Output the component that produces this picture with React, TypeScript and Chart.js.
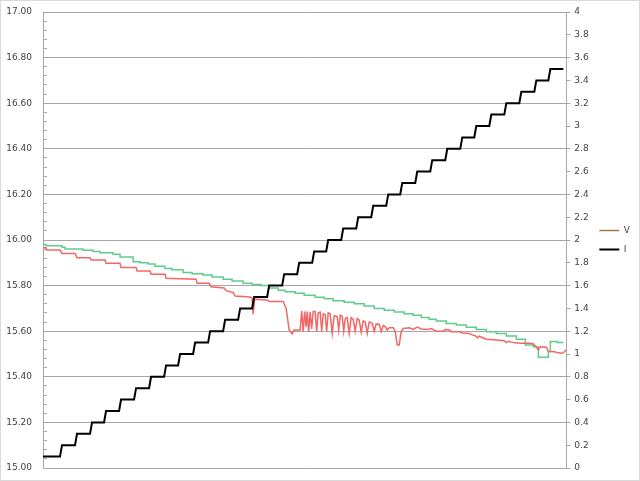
import React, { useEffect, useRef } from 'react';
import { Chart, registerables } from 'chart.js';

Chart.register(...registerables);

// ---- Data (x in sample units along a hidden time axis) ----
const xMax = 523;

// Current (right axis, A): stair levels and the sample at which each level begins
const currentLevels = [
  0.1, 0.2, 0.3, 0.4, 0.5, 0.6, 0.7, 0.8, 0.9, 1.0,
  1.1, 1.2, 1.3, 1.4, 1.5, 1.6, 1.7, 1.8, 1.9, 2.0,
  2.1, 2.2, 2.3, 2.4, 2.5, 2.6, 2.7, 2.8, 2.9, 3.0,
  3.1, 3.2, 3.3, 3.4, 3.5,
];
const currentStarts = [
  0, 18, 33, 48, 62, 77, 92, 107, 122, 136,
  151, 166, 181, 196, 210, 225, 240, 255, 270, 284,
  299, 314, 329, 344, 358, 373, 388, 403, 418, 432,
  447, 462, 477, 492, 506,
];
const currentEnd = 520;

// Upper voltage trace (green)
const greenX = [
  0, 3, 19, 22, 40, 50, 57, 70, 77, 90, 97, 105, 112, 122, 129, 140, 149, 160, 169, 180,
  189, 200, 209, 218, 226, 235, 242, 252, 261, 272, 281, 290, 301, 311, 321, 331, 341, 351,
  361, 370, 378, 386, 393, 403, 413, 423, 433, 443, 453, 463, 473, 482, 490, 495, 498, 505,
  507, 508, 514, 520,
];
const greenV = [
  15.99, 15.98, 15.975, 15.968, 15.96, 15.955, 15.95, 15.944, 15.937, 15.925, 15.905, 15.9,
  15.895, 15.885, 15.875, 15.87, 15.857, 15.852, 15.847, 15.838, 15.828, 15.82, 15.81, 15.805,
  15.8, 15.79, 15.78, 15.773, 15.766, 15.758, 15.749, 15.742, 15.734, 15.727, 15.72, 15.71,
  15.7, 15.692, 15.684, 15.677, 15.67, 15.66, 15.652, 15.645, 15.634, 15.627, 15.617, 15.607,
  15.598, 15.59, 15.579, 15.565, 15.54, 15.532, 15.486, 15.486, 15.51, 15.554, 15.555, 15.55,
];

// Lower voltage trace (red)
const redX = [
  0, 3, 4, 17, 19, 32, 34, 47, 48, 62, 63, 77, 78, 93, 94, 107, 108, 122, 123, 153,
  154, 166, 168, 181, 183, 190, 192, 207, 209, 210, 211.5, 224, 226, 240, 243, 246, 249, 251, 257,
  258.5, 260, 261.5, 263, 264, 265.5, 267, 268.5, 270, 272, 273.5, 275, 277, 278.5, 280, 282,
  283.5, 285, 287, 289, 291, 294, 295.5, 297, 299, 300.5, 302, 304, 306, 308, 310, 312, 314,
  316, 318, 320, 322, 324, 326, 329, 331, 333, 336, 338, 340, 342, 344, 346, 350, 352, 354,
  356, 358, 360, 366, 370, 374, 378, 384, 388, 393, 400, 402, 406, 408, 416, 419, 426, 429,
  432, 434, 436, 443, 450, 456, 461, 463, 465, 470, 477, 485, 490, 493, 495, 497, 503, 505,
  511, 515, 519, 521, 523,
];
const redV = [
  15.966, 15.966, 15.956, 15.956, 15.941, 15.941, 15.922, 15.922, 15.912, 15.912, 15.898, 15.898,
  15.879, 15.879, 15.864, 15.864, 15.85, 15.85, 15.832, 15.828,
  15.81, 15.81, 15.795, 15.79, 15.778, 15.77, 15.754, 15.75, 15.745, 15.675, 15.74, 15.737,
  15.73, 15.73, 15.7, 15.605, 15.588, 15.605, 15.605,
  15.688, 15.6, 15.686, 15.62, 15.686, 15.598, 15.684, 15.61, 15.686, 15.686, 15.598, 15.68,
  15.684, 15.6, 15.676, 15.672, 15.6, 15.68, 15.676, 15.591, 15.668, 15.664, 15.605, 15.67,
  15.666, 15.6, 15.655, 15.66, 15.591, 15.66, 15.652, 15.6, 15.655, 15.648, 15.595, 15.645,
  15.64, 15.59, 15.64, 15.635, 15.6, 15.632, 15.63, 15.598, 15.625, 15.62, 15.605, 15.615,
  15.615, 15.6, 15.54, 15.54, 15.6, 15.612, 15.615, 15.608, 15.618, 15.61, 15.607, 15.612,
  15.6, 15.6, 15.607, 15.606, 15.598, 15.598, 15.592, 15.59, 15.584, 15.58, 15.571, 15.578,
  15.565, 15.562, 15.56, 15.558, 15.55, 15.556, 15.55, 15.547, 15.547, 15.545, 15.53, 15.518,
  15.532, 15.53, 15.512, 15.51, 15.505, 15.503, 15.51, 15.518,
];

// Axes
const voltMin = 15.0;
const voltMax = 17.0;
const voltMajorStep = 0.2;
const voltMinorStep = 0.04;
const ampMin = 0;
const ampMax = 4;
const ampStep = 0.2;

const seriesNames = ['V', 'I'];
const seriesColors = ['#a47a44', '#000000'];
const greenColor = '#5fcb8c';
const redColor = '#f26666';

const RISE = 1;

function buildCurrent() {
  const pts: { x: number; y: number }[] = [];
  for (let i = 0; i < currentLevels.length; i++) {
    const s = currentStarts[i] + (i > 0 ? RISE : 0);
    const e = i + 1 < currentStarts.length ? currentStarts[i + 1] - RISE : currentEnd;
    pts.push({ x: s, y: currentLevels[i] });
    pts.push({ x: e, y: currentLevels[i] });
  }
  return pts;
}

function zip(xs: number[], ys: number[]) {
  return xs.map((x, i) => ({ x, y: ys[i] }));
}

const isMajor = (v: number) => Math.abs(Math.round(v / voltMajorStep) * voltMajorStep - v) < 1e-6;

const framePlugin = {
  id: 'frame',
  beforeDraw(chart: any) {
    const { ctx, width, height } = chart;
    ctx.save();
    ctx.fillStyle = '#ffffff';
    ctx.fillRect(0, 0, width, height);
    ctx.strokeStyle = '#d9d9d9';
    ctx.lineWidth = 1;
    ctx.strokeRect(0.5, 0.5, width - 1, height - 1);
    ctx.restore();
  },
};

export default function App() {
  const ref = useRef<HTMLCanvasElement | null>(null);

  useEffect(() => {
    document.body.style.margin = '0';
    if (!ref.current) return;
    Chart.defaults.font.family = "'DejaVu Sans', Verdana, sans-serif";
    Chart.defaults.font.size = 9;
    Chart.defaults.color = '#404040';

    const chart = new Chart(ref.current, {
      type: 'line',
      data: {
        datasets: [
          {
            label: seriesNames[0],
            data: [],
            borderColor: seriesColors[0],
            borderWidth: 1.5,
            pointRadius: 0,
            yAxisID: 'yV',
          },
          {
            label: seriesNames[1],
            data: buildCurrent(),
            borderColor: seriesColors[1],
            borderWidth: 2,
            pointRadius: 0,
            yAxisID: 'yI',
          },
          {
            label: 'V_low',
            data: zip(redX, redV),
            borderColor: redColor,
            borderWidth: 1.5,
            pointRadius: 0,
            yAxisID: 'yV',
          },
          {
            label: 'V_high',
            data: zip(greenX, greenV),
            borderColor: greenColor,
            borderWidth: 1.5,
            pointRadius: 0,
            stepped: 'after',
            yAxisID: 'yV',
          },
        ],
      },
      options: {
        animation: false,
        responsive: false,
        maintainAspectRatio: false,
        parsing: false,
        normalized: true,
        layout: { padding: { left: 6, right: 0, top: 12, bottom: 13 } },
        plugins: {
          tooltip: { enabled: false },
          legend: {
            position: 'right',
            labels: {
              usePointStyle: true,
              pointStyle: 'line',
              pointStyleWidth: 20,
              boxWidth: 20,
              padding: 10,
              color: '#404040',
              font: { size: 9 },
              filter: (item: any) => seriesNames.includes(item.text),
            },
          },
        },
        scales: {
          x: {
            type: 'linear',
            min: 0,
            max: xMax,
            display: false,
          },
          yV: {
            type: 'linear',
            position: 'left',
            min: voltMin,
            max: voltMax,
            border: { color: '#a6a6a6', width: 1 },
            grid: {
              color: (c: any) => (isMajor(c.tick.value) ? '#a6a6a6' : 'rgba(0,0,0,0)'),
              tickColor: '#a6a6a6',
              tickLength: -4,
              drawTicks: true,
            },
            ticks: {
              stepSize: voltMinorStep,
              autoSkip: false,
              padding: 15,
              color: '#404040',
              callback: (v: any) => (isMajor(Number(v)) ? Number(v).toFixed(2) : ''),
            },
            afterFit: (s: any) => {
              s.width = 37;
              s.paddingTop = 0;
              s.paddingBottom = 0;
            },
          },
          yI: {
            type: 'linear',
            position: 'right',
            min: ampMin,
            max: ampMax,
            border: { color: '#a6a6a6', width: 1 },
            grid: {
              drawOnChartArea: false,
              tickColor: '#a6a6a6',
              tickLength: 4,
            },
            ticks: {
              stepSize: ampStep,
              autoSkip: false,
              padding: 4,
              color: '#404040',
              callback: (v: any) => String(Number(Number(v).toFixed(1))),
            },
            afterFit: (s: any) => {
              s.width = 23;
              s.paddingTop = 0;
              s.paddingBottom = 0;
            },
          },
        },
      },
      plugins: [framePlugin],
    });
    return () => chart.destroy();
  }, []);

  return (
    <div style={{ width: 640, height: 481 }}>
      <canvas ref={ref} width={640} height={481} style={{ display: 'block' }} />
    </div>
  );
}
